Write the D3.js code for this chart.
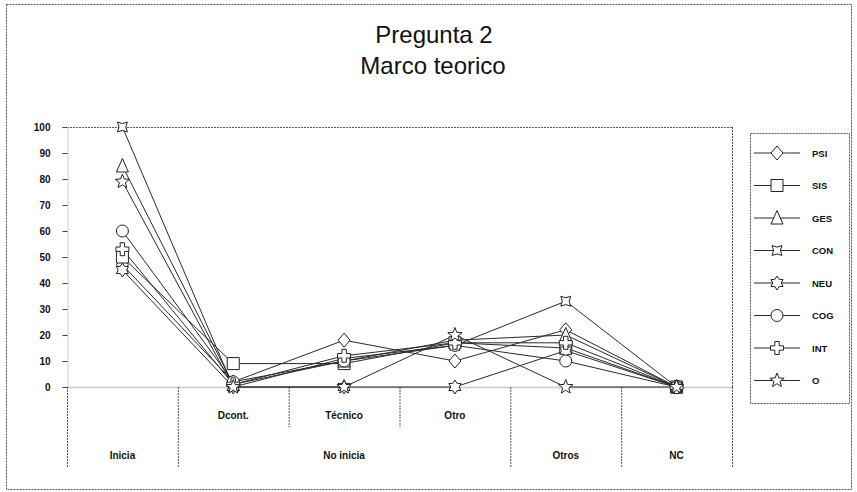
<!DOCTYPE html>
<html>
<head>
<meta charset="utf-8">
<script src="https://cdn.jsdelivr.net/npm/d3@7"></script>
<style>
  html, body { margin: 0; padding: 0; background: #fff; }
  svg { display: block; font-family: "Liberation Sans", Arial, sans-serif; }
</style>
</head>
<body>
<svg id="chart" width="857" height="492"></svg>
<script>
// ---- data ----
const categories = ["Inicia", "Dcont.", "Técnico", "Otro", "Otros", "NC"];
const subLabels = ["", "Dcont.", "Técnico", "Otro", "", ""];
const groups = [
  { label: "Inicia", from: 0, to: 0 },
  { label: "No inicia", from: 1, to: 3 },
  { label: "Otros", from: 4, to: 4 },
  { label: "NC", from: 5, to: 5 }
];
const seriesNames = ["PSI", "SIS", "GES", "CON", "NEU", "COG", "INT", "O"];
const PSI = [47, 2, 18, 10, 22, 0];
const SIS = [50, 9, 9, 17, 15, 0];
const GES = [85, 1, 10, 18, 20, 0];
const CON = [100, 0, 11, 16, 33, 0];
const NEU = [45, 0, 0, 0, 14, 0];
const COG = [60, 2, 10, 16, 10, 0];
const INT = [53, 1, 12, 17, 17, 0];
const O   = [79, 0, 0, 20, 0, 0];
const seriesValues = [PSI, SIS, GES, CON, NEU, COG, INT, O];
const yTicks = [0, 10, 20, 30, 40, 50, 60, 70, 80, 90, 100];
const titleLines = ["Pregunta 2", "Marco teorico"];

// ---- custom symbols (drawn at unit scale; size = scale^2) ----
function polyStar(n, R, r, rot) {
  return {
    draw(ctx, size) {
      const s = Math.sqrt(size);
      for (let i = 0; i < 2 * n; i++) {
        const a = rot + i * Math.PI / n;
        const rad = (i % 2 === 0 ? R : r) * s;
        const px = Math.sin(a) * rad, py = -Math.cos(a) * rad;
        if (i === 0) ctx.moveTo(px, py); else ctx.lineTo(px, py);
      }
      ctx.closePath();
    }
  };
}
const symDiamond = {
  draw(ctx, size) {
    const s = Math.sqrt(size);
    ctx.moveTo(0, -7 * s); ctx.lineTo(6 * s, 0); ctx.lineTo(0, 7 * s); ctx.lineTo(-6 * s, 0); ctx.closePath();
  }
};
const symTriangle = {
  draw(ctx, size) {
    const s = Math.sqrt(size);
    ctx.moveTo(0, -7.5 * s); ctx.lineTo(6 * s, 6 * s); ctx.lineTo(-6 * s, 6 * s); ctx.closePath();
  }
};
const symSquare = {
  draw(ctx, size) {
    const s = Math.sqrt(size);
    ctx.rect(-6 * s, -6 * s, 12 * s, 12 * s);
  }
};
const symCircle = {
  draw(ctx, size) {
    const s = Math.sqrt(size);
    ctx.moveTo(6 * s, 0); ctx.arc(0, 0, 6 * s, 0, 2 * Math.PI);
  }
};
const symCross = {
  draw(ctx, size) {
    const s = Math.sqrt(size), a = 2.2 * s, b = 6.5 * s;
    ctx.moveTo(-a, -b); ctx.lineTo(a, -b); ctx.lineTo(a, -a); ctx.lineTo(b, -a); ctx.lineTo(b, a);
    ctx.lineTo(a, a); ctx.lineTo(a, b); ctx.lineTo(-a, b); ctx.lineTo(-a, a); ctx.lineTo(-b, a);
    ctx.lineTo(-b, -a); ctx.lineTo(-a, -a); ctx.closePath();
  }
};
const symbolTypes = {
  PSI: symDiamond,
  SIS: symSquare,
  GES: symTriangle,
  CON: polyStar(4, 7, 3.4, Math.PI / 4),
  NEU: polyStar(6, 7, 4.2, 0),
  COG: symCircle,
  INT: symCross,
  O: polyStar(5, 7.5, 3.2, 0)
};

// ---- layout ----
const svg = d3.select("#chart");
const plot = { left: 67, right: 732, top: 127, bottom: 387 };
const x = d3.scaleBand().domain(categories).range([plot.left, plot.right]).padding(0);
const y = d3.scaleLinear().domain([0, 100]).range([plot.bottom, plot.top]);
const cx = c => x(c) + x.bandwidth() / 2;

const dark = "#2a2a2a";

// outer border
svg.append("rect").attr("x", 6.5).attr("y", 4.5).attr("width", 845).attr("height", 485)
  .attr("fill", "none").attr("stroke", "#555").attr("stroke-width", 1).attr("stroke-dasharray", "2,1");

// title
svg.append("text").attr("x", 434).attr("y", 43).attr("text-anchor", "middle")
  .attr("font-size", 24).attr("fill", "#111").text(titleLines[0]);
svg.append("text").attr("x", 433).attr("y", 74).attr("text-anchor", "middle")
  .attr("font-size", 24).attr("fill", "#111").text(titleLines[1]);

// plot frame: top & right dark dashed
svg.append("line").attr("x1", plot.left).attr("x2", plot.right).attr("y1", plot.top + 0.5).attr("y2", plot.top + 0.5)
  .attr("stroke", "#555").attr("stroke-dasharray", "2,1");
svg.append("line").attr("x1", plot.right + 0.5).attr("x2", plot.right + 0.5).attr("y1", plot.top).attr("y2", plot.bottom)
  .attr("stroke", "#555").attr("stroke-dasharray", "2,1");

// y axis
const yAxis = d3.axisLeft(y).tickValues(yTicks).tickSize(5).tickPadding(12).tickFormat(d3.format("d"));
const gy = svg.append("g").attr("transform", `translate(${plot.left + 0.5},0)`).call(yAxis);
gy.select(".domain").attr("stroke", "#c8c8d8");
gy.selectAll(".tick line").attr("stroke", "#444");
gy.selectAll(".tick text").attr("font-size", 10).attr("font-weight", "bold")
  .attr("font-family", "Liberation Sans, Arial, sans-serif").attr("fill", "#111");

// zero line
svg.append("line").attr("x1", plot.left).attr("x2", plot.right)
  .attr("y1", y(0) + 0.5).attr("y2", y(0) + 0.5).attr("stroke", "#c8c8c8").attr("stroke-width", 1.5);

// category separators
const edges = categories.map(c => x(c)).concat([plot.right]);
edges.forEach((ex, i) => {
  const isGroupEdge = groups.some(g => x(categories[g.from]) === ex) || i === edges.length - 1;
  svg.append("line").attr("x1", ex + 0.5).attr("x2", ex + 0.5)
    .attr("y1", plot.bottom).attr("y2", isGroupEdge ? 468 : 427)
    .attr("stroke", "#555").attr("stroke-dasharray", "2,1");
});

// category labels
categories.forEach((c, i) => {
  if (!subLabels[i]) return;
  svg.append("text").attr("x", cx(c)).attr("y", 419).attr("text-anchor", "middle")
    .attr("font-size", 10).attr("font-weight", "bold").attr("fill", "#111").text(subLabels[i]);
});
groups.forEach(g => {
  const gx = (x(categories[g.from]) + x(categories[g.to]) + x.bandwidth()) / 2;
  svg.append("text").attr("x", gx).attr("y", 459).attr("text-anchor", "middle")
    .attr("font-size", 10).attr("font-weight", "bold").attr("fill", "#111").text(g.label);
});

// series lines
const line = d3.line().x((d, i) => cx(categories[i])).y(d => y(d));
seriesValues.forEach((vals) => {
  svg.append("path").datum(vals).attr("d", line)
    .attr("fill", "none").attr("stroke", dark).attr("stroke-width", 1);
});
// markers
seriesValues.forEach((vals, si) => {
  const name = seriesNames[si];
  const sym = d3.symbol().type(symbolTypes[name]).size(1);
  svg.append("g").selectAll("path").data(vals).join("path")
    .attr("d", sym)
    .attr("transform", (d, i) => `translate(${cx(categories[i])},${y(d)})`)
    .attr("fill", "#fff").attr("stroke", "#222").attr("stroke-width", 1);
});

// legend
const lg = svg.append("g");
lg.append("rect").attr("x", 750.5).attr("y", 133.5).attr("width", 99).attr("height", 270)
  .attr("fill", "#fff").attr("stroke", "#555").attr("stroke-dasharray", "2,1");
seriesNames.forEach((name, i) => {
  const ly = 153 + i * 32.5;
  lg.append("line").attr("x1", 754).attr("x2", 800).attr("y1", ly).attr("y2", ly)
    .attr("stroke", dark);
  lg.append("path").attr("d", d3.symbol().type(symbolTypes[name]).size(1)())
    .attr("transform", `translate(777,${ly})`).attr("fill", "#fff").attr("stroke", "#222");
  lg.append("text").attr("x", 812).attr("y", ly + 3.5).attr("font-size", 9.5).attr("font-weight", "bold")
    .attr("fill", "#111").text(name);
});
</script>
</body>
</html>
